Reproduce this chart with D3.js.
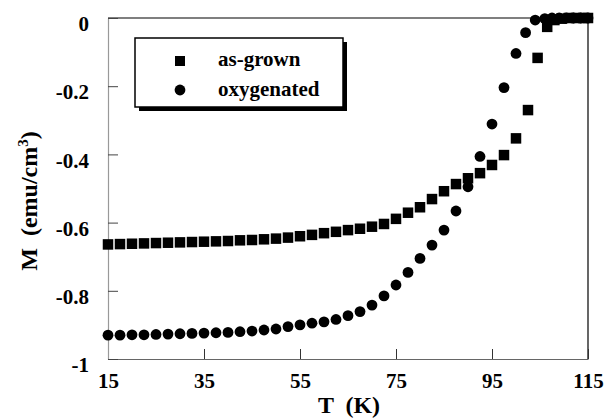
<!DOCTYPE html>
<html lang="en">

<head>
    <meta charset="UTF-8" />
    <script src="https://d3js.org/d3.v7.min.js"></script>
    <title>M vs T</title>
    <style>
        body { margin: 0; background: #fff; }
    </style>
</head>

<body>
    <svg id="chart"></svg>

    <script>
        // as-grown sample (squares)
        const tempGrown = [15, 17.5, 20, 22.5, 25, 27.5, 30, 32.5, 35, 37.5, 40, 42.5, 45, 47.5, 50, 52.5, 55, 57.5, 60, 62.5,
            65, 67.5, 70, 72.5, 75, 77.5, 80, 82.5, 85, 87.5, 90, 92.5, 95, 97.5, 100, 102.5, 104.5, 106.5, 108, 109.5, 111, 112.5, 114, 115];
        const mGrown = [-0.664, -0.663, -0.662, -0.661, -0.660, -0.659, -0.658, -0.657, -0.656, -0.655, -0.654, -0.652, -0.651, -0.649,
            -0.647, -0.644, -0.640, -0.636, -0.631, -0.627, -0.622, -0.618, -0.612, -0.604, -0.589, -0.571, -0.555, -0.531, -0.508,
            -0.487, -0.470, -0.455, -0.431, -0.402, -0.353, -0.270, -0.117, -0.026, -0.006, -0.002, 0, 0, 0, 0];

        // oxygenated sample (circles)
        const tempOxy = [15, 17.5, 20, 22.5, 25, 27.5, 30, 32.5, 35, 37.5, 40, 42.5, 45, 47.5, 50, 52.5, 55, 57.5, 60, 62.5,
            65, 67.5, 70, 72.5, 75, 77.5, 80, 82.5, 85, 87.5, 90, 92.5, 95, 97.5, 100, 102, 104, 106, 107.5, 109, 110.5, 112, 113.5, 115];
        const mOxy = [-0.930, -0.930, -0.929, -0.929, -0.928, -0.927, -0.926, -0.925, -0.924, -0.923, -0.922, -0.920, -0.918, -0.915,
            -0.912, -0.905, -0.900, -0.895, -0.891, -0.884, -0.873, -0.861, -0.842, -0.815, -0.783, -0.746, -0.705, -0.666, -0.622,
            -0.566, -0.495, -0.406, -0.311, -0.204, -0.104, -0.043, -0.006, -0.002, 0, 0, 0, 0, 0, 0];

        const xTicks = [15, 35, 55, 75, 95, 115];
        const yTicks = [0, -0.2, -0.4, -0.6, -0.8, -1];
        const yTickLabels = ["0", "-0.2", "-0.4", "-0.6", "-0.8", "-1"];
        const legendLabels = ["as-grown", "oxygenated"];

        const FONT = "'Liberation Serif', 'Times New Roman', Times, serif";
        const W = 605, H = 418;
        const margin = { top: 18, right: 17, bottom: 59, left: 108 };

        const svg = d3.select("#chart")
            .attr("width", W)
            .attr("height", H)
            .style("font-family", FONT)
            .style("font-weight", "bold");

        const x = d3.scaleLinear().domain([15, 115]).range([margin.left, W - margin.right]);
        const y = d3.scaleLinear().domain([-1, 0]).range([H - margin.bottom, margin.top]);

        // frame: top and right in black
        svg.append("line")
            .attr("x1", x(15)).attr("x2", x(115))
            .attr("y1", y(0)).attr("y2", y(0))
            .attr("stroke", "#000").attr("stroke-width", 1.2);
        svg.append("line")
            .attr("x1", x(115)).attr("x2", x(115))
            .attr("y1", y(0)).attr("y2", y(-1))
            .attr("stroke", "#000").attr("stroke-width", 1.2);

        // bottom axis, ticks pointing inward
        const xAxis = svg.append("g")
            .attr("transform", `translate(0, ${y(-1)})`)
            .call(d3.axisBottom(x).tickValues(xTicks).tickSize(-10).tickSizeOuter(0).tickPadding(14));
        xAxis.attr("font-family", null).attr("font-size", null);
        xAxis.select(".domain").attr("stroke", "#666").attr("stroke-width", 1.2);
        xAxis.selectAll(".tick line").attr("stroke", "#333");
        xAxis.selectAll(".tick text")
            .attr("fill", "#000")
            .style("font-family", FONT)
            .style("font-size", "21px")
            .attr("dy", "0.72em");

        // left axis, ticks pointing inward
        const yAxis = svg.append("g")
            .attr("transform", `translate(${x(15)}, 0)`)
            .call(d3.axisLeft(y).tickValues(yTicks).tickFormat((d, i) => yTickLabels[i]).tickSize(-10).tickSizeOuter(0).tickPadding(19));
        yAxis.attr("font-family", null).attr("font-size", null);
        yAxis.select(".domain").attr("stroke", "#999").attr("stroke-width", 1.2);
        yAxis.selectAll(".tick line").attr("stroke", "#444");
        yAxis.selectAll(".tick text")
            .attr("fill", "#000")
            .style("font-family", FONT)
            .style("font-size", "21px")
            .attr("dy", "0.6em");

        // axis titles
        svg.append("text")
            .attr("x", 349)
            .attr("y", 413)
            .style("text-anchor", "middle")
            .style("font-family", FONT)
            .style("font-size", "24px")
            .style("white-space", "pre")
            .text("T  (K)");

        const yTitle = svg.append("text")
            .attr("transform", "translate(37, 201) rotate(-90)")
            .style("text-anchor", "middle")
            .style("font-family", FONT)
            .style("font-size", "24px")
            .style("white-space", "pre");
        yTitle.append("tspan").text("M  (emu/cm");
        yTitle.append("tspan").attr("dy", -9).style("font-size", "15px").text("3");
        yTitle.append("tspan").attr("dy", 9).text(")");

        // data
        const grown = tempGrown.map((t, i) => ({ t: t, m: mGrown[i] }));
        const oxy = tempOxy.map((t, i) => ({ t: t, m: mOxy[i] }));
        const sq = 10.5;

        svg.append("g")
            .selectAll("circle")
            .data(oxy)
            .enter()
            .append("circle")
            .attr("cx", d => x(d.t))
            .attr("cy", d => y(d.m))
            .attr("r", 5.4)
            .style("fill", "#000");

        svg.append("g")
            .selectAll("rect")
            .data(grown)
            .enter()
            .append("rect")
            .attr("x", d => x(d.t) - sq / 2)
            .attr("y", d => y(d.m) - sq / 2)
            .attr("width", sq)
            .attr("height", sq)
            .style("fill", "#000");

        // legend with drop shadow
        const lg = svg.append("g");
        lg.append("rect")
            .attr("x", 139).attr("y", 42)
            .attr("width", 208).attr("height", 69)
            .attr("fill", "#000");
        lg.append("rect")
            .attr("x", 135).attr("y", 38)
            .attr("width", 208).attr("height", 69)
            .attr("fill", "#fff")
            .attr("stroke", "#000")
            .attr("stroke-width", 1.5);
        lg.append("rect")
            .attr("x", 175).attr("y", 56)
            .attr("width", 10).attr("height", 10)
            .attr("fill", "#000");
        lg.append("circle")
            .attr("cx", 180).attr("cy", 90)
            .attr("r", 5.4)
            .attr("fill", "#000");
        lg.selectAll("text.lbl")
            .data(legendLabels)
            .enter()
            .append("text")
            .attr("class", "lbl")
            .attr("x", 218)
            .attr("y", (d, i) => 66 + i * 30)
            .style("font-family", FONT)
            .style("font-size", "21px")
            .text(d => d);
    </script>
</body>

</html>
